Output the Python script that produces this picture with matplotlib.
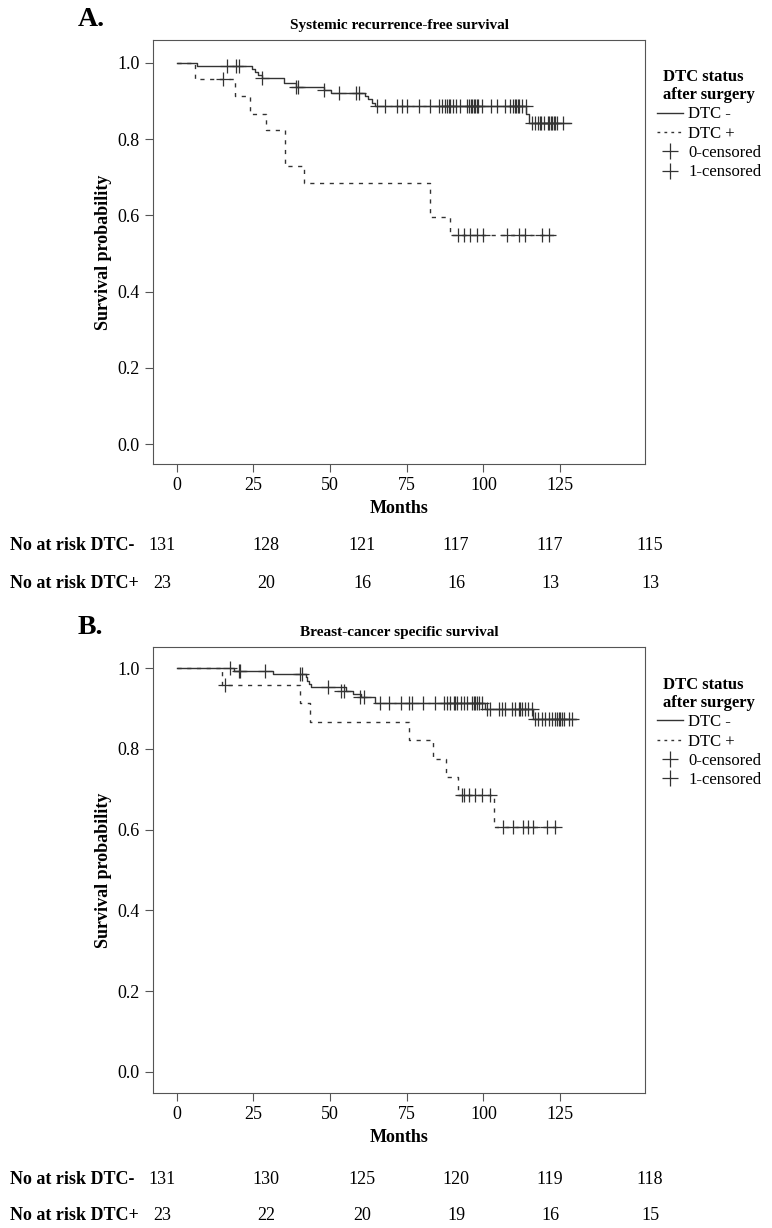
import matplotlib.pyplot as plt
from matplotlib.lines import Line2D

plt.rcParams["font.family"] = ["Liberation Serif", "DejaVu Serif"]

# Panel A: systemic recurrence-free survival (months)
a_neg_t = [0, 6.5, 24, 25, 26, 27, 34, 38, 47, 49, 60, 61, 62, 63, 111, 112, 125.5]
a_neg_s = [1.0, 0.992, 0.985, 0.977, 0.969, 0.961, 0.947, 0.938, 0.929, 0.922, 0.914, 0.905, 0.896, 0.888, 0.866, 0.842, 0.842]
a_neg_cens_t = [16, 19, 20, 27, 38, 38.5, 47, 51.5, 57, 58,
                63.7, 66.4, 70.1, 71.7, 73.3, 77, 80.7, 83.5, 84.5, 85.5, 86, 86.5, 87, 88, 89, 90,
                92.5, 93, 93.5, 94, 94.5, 95, 95.5, 96, 97, 100, 101.8,
                104.5, 106, 107, 107.5, 108, 108.5, 109, 110, 111,
                113, 114, 115, 115.5, 116, 117, 118, 118.5, 119, 119.5, 120, 120.5, 121, 123]
a_neg_cens_s = [0.992, 0.992, 0.992, 0.961, 0.938, 0.938, 0.929, 0.922, 0.922, 0.922] + [0.888] * 36 + [0.842] * 14

a_pos_t = [0, 6, 18.7, 23.4, 28.4, 34.6, 40.6, 80.5, 87, 120.2]
a_pos_s = [1.0, 0.957, 0.912, 0.866, 0.824, 0.73, 0.685, 0.595, 0.548, 0.548]
a_pos_cens_t = [14.6, 89.5, 91.3, 93.4, 95.5, 97.6, 105, 108.8, 110.9, 116.2, 118.3]
a_pos_cens_s = [0.957] + [0.548] * 10

# Panel B: breast-cancer specific survival
b_neg_t = [0, 18.4, 30.5, 41, 41.5, 42, 42.6, 54, 56, 58.5, 63.2, 98.2, 113.5, 127]
b_neg_s = [1.0, 0.992, 0.985, 0.977, 0.969, 0.96, 0.952, 0.942, 0.935, 0.927, 0.913, 0.898, 0.875, 0.875]
b_neg_cens_t = [16.9, 19.7, 20.2, 28.2, 39.3, 39.9, 48.3, 52.4, 53.1, 58.4, 59.5,
                64.8, 67.4, 71.4, 73.8, 74.9, 78.3, 82.1, 85, 86, 87.1, 88.2, 88.7, 89.2, 90.3, 91.3, 92.4,
                94, 94.5, 95, 95.6, 96.1, 97.2,
                98.7, 99.8, 102.4, 103.5, 104.6, 106.7, 107.7, 108.8, 109.3, 109.8, 110.9, 111.9, 113,
                114, 115.1, 116.2, 117.2, 118.3, 119.4, 120.4, 121, 121.5, 122, 122.6, 123.1, 124.7, 125.8]
b_neg_cens_s = [1.0, 0.992, 0.992, 0.992, 0.985, 0.985, 0.952, 0.942, 0.942, 0.927, 0.927] + [0.913] * 22 + [0.898] * 13 + [0.875] * 14

b_pos_t = [0, 14.4, 39.3, 42.3, 73.8, 81.4, 85.7, 89.4, 100.8, 122.3]
b_pos_s = [1.0, 0.958, 0.913, 0.866, 0.822, 0.775, 0.73, 0.685, 0.607, 0.607]
b_pos_cens_t = [15.5, 90.8, 91.3, 92.9, 95, 97.2, 99.8, 103.9, 107.1, 110.3, 111.9, 113.5, 117.7, 120.4]
b_pos_cens_s = [0.958] + [0.685] * 6 + [0.607] * 7

risk_a_neg = [131, 128, 121, 117, 117, 115]
risk_a_pos = [23, 20, 16, 16, 13, 13]
risk_b_neg = [131, 130, 125, 120, 119, 118]
risk_b_pos = [23, 22, 20, 19, 16, 15]

xticks = [0, 25, 50, 75, 100, 125]
yticks = [0.0, 0.2, 0.4, 0.6, 0.8, 1.0]
col = "#333333"
# the month readings above were taken with a slightly short scale; correct it
scale = 1.025

fig = plt.figure(figsize=(7.72, 12.28), dpi=100)
W, H = 772, 1228


def cal(ts):
    return [t * scale for t in ts]


def panel(rect, ylim, title, letter, neg, pos, risk_neg, risk_pos, risk_y):
    ax = fig.add_axes(rect)
    ax.step(cal(neg[0]), neg[1], where="post", color=col, lw=1.0)
    ax.step(cal(pos[0]), pos[1], where="post", color=col, lw=1.0, linestyle=(0, (3, 4)))
    ax.plot(cal(neg[2]), neg[3], "+", color=col, ms=10, mew=0.9)
    ax.plot(cal(pos[2]), pos[3], "+", color=col, ms=10, mew=0.9)
    ax.set_xlim(-7.7, 152.7)
    ax.set_ylim(*ylim)
    ax.set_xticks(xticks)
    ax.set_yticks(yticks)
    ax.set_yticklabels([f"{v:.1f}" for v in yticks])
    ax.tick_params(labelsize=13, color="#555555", length=6)
    for s in ax.spines.values():
        s.set_color("#555555")
    ax.set_xlabel("Months", fontsize=13, fontweight="bold")
    ax.set_ylabel("Survival probability", fontsize=13, fontweight="bold")
    ax.set_title(title, fontsize=11, fontweight="bold", pad=8)
    handles = [Line2D([], [], color=col, lw=1.0),
               Line2D([], [], color=col, lw=1.0, linestyle=(0, (2, 3))),
               Line2D([], [], color=col, marker="+", ms=12, lw=0, mew=0.9),
               Line2D([], [], color=col, marker="+", ms=12, lw=0, mew=0.9)]
    ax.legend(handles, ["DTC -", "DTC +", "0-censored", "1-censored"],
              loc="upper left", bbox_to_anchor=(1.0, 0.96), frameon=False,
              fontsize=12, title="DTC status\nafter surgery",
              title_fontproperties={"weight": "bold", "size": 12},
              handlelength=1.6, handletextpad=0.3, labelspacing=0.2, borderaxespad=0.3)
    fig.text(78 / W, letter[1], letter[0], fontsize=20, fontweight="bold", ha="left", va="center")
    xs = [162, 266, 362, 456, 550, 650]
    for y, lab, vals in [(risk_y[0], "No at risk DTC-", risk_neg), (risk_y[1], "No at risk DTC+", risk_pos)]:
        fig.text(10 / W, 1 - y / H, lab, fontsize=13, fontweight="bold", ha="left", va="center")
        for x, v in zip(xs, vals):
            fig.text(x / W, 1 - y / H, str(v), fontsize=13, ha="center", va="center")
    return ax


panel([153 / W, 1 - 464 / H, 492 / W, 424 / H], (-0.052, 1.06),
      "Systemic recurrence-free survival", ("A.", 1 - 20 / H),
      (a_neg_t, a_neg_s, a_neg_cens_t, a_neg_cens_s),
      (a_pos_t, a_pos_s, a_pos_cens_t, a_pos_cens_s),
      risk_a_neg, risk_a_pos, (546, 583))
panel([153 / W, 1 - 1093 / H, 492 / W, 446 / H], (-0.052, 1.052),
      "Breast-cancer specific survival", ("B.", 1 - 628 / H),
      (b_neg_t, b_neg_s, b_neg_cens_t, b_neg_cens_s),
      (b_pos_t, b_pos_s, b_pos_cens_t, b_pos_cens_s),
      risk_b_neg, risk_b_pos, (1180, 1216))

fig.savefig("out.png", dpi=100)
